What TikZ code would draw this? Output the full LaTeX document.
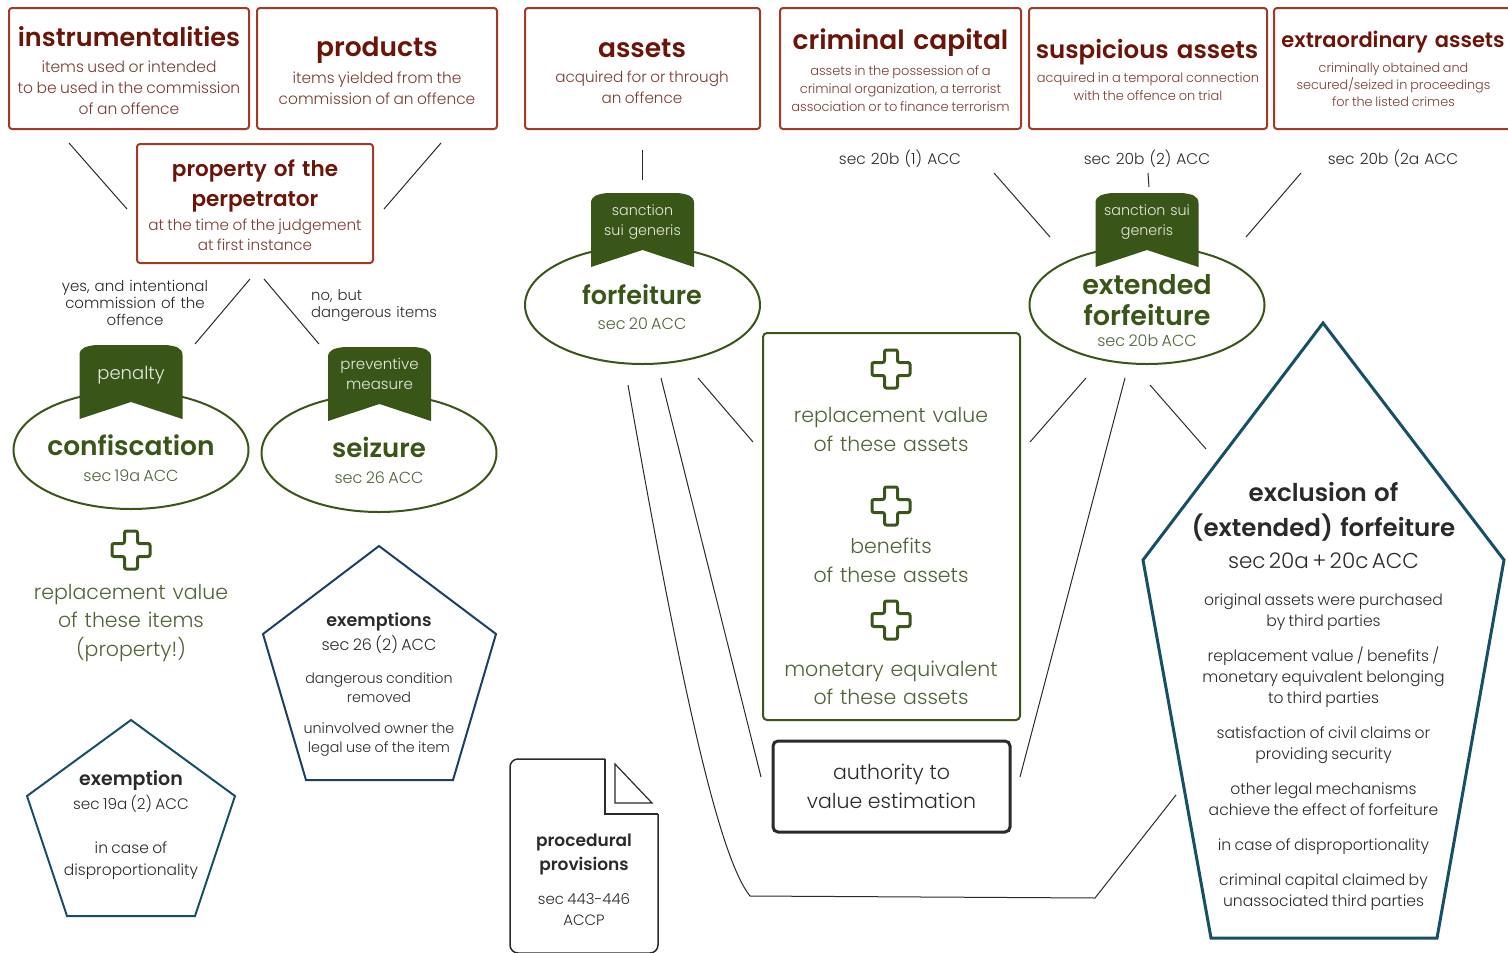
\documentclass[tikz,border=0pt]{standalone}
\usepackage{fontspec}
\usepackage{xcolor}
\setmainfont{Poppins Light}[BoldFont={Poppins SemiBold}]
\usetikzlibrary{shapes.geometric}

\definecolor{boxred}{HTML}{A33A26}
\definecolor{titlered}{HTML}{6B1408}
\definecolor{subred}{HTML}{7A3C32}
\definecolor{leaf}{HTML}{3A5518}
\definecolor{subleaf}{HTML}{4F6238}
\definecolor{navy}{HTML}{1C3F68}
\definecolor{petrol}{HTML}{164F66}
\definecolor{ink}{HTML}{2A2A2A}

\newcommand{\widebold}{\bfseries\spaceskip=.3em\relax}
\newcommand{\redfont}[2]{\fontsize{#1}{#2}\selectfont}
\newcommand{\ttl}[3]{{\fontsize{#1}{#2}\selectfont\widebold #3\par}}
\newcommand{\sub}[3]{{\fontsize{#1}{#2}\selectfont #3\par}}

\tikzset{
	redbox/.style={draw=boxred, line width=2pt, rounded corners=3pt, minimum height=121pt, minimum width=#1, inner sep=0pt},
	redtitle/.style={text width=300pt, align=center, inner sep=0pt, text=titlered, font={\fontsize{#1}{30}\selectfont\widebold}},
	redtext/.style={text width=300pt, align=center, inner sep=0pt, text=subred, execute at begin node={\spaceskip=.22em\relax}},
	oval/.style={draw=leaf, line width=2pt, ellipse, minimum width=235pt, minimum height=118pt},
	ovaltext/.style={text width=210pt, align=center, inner sep=0pt, text=subleaf},
	tagtext/.style={text width=100pt, align=center, inner sep=0pt, text=white!88!leaf, font=\fontsize{15}{20}\selectfont},
	link/.style={draw=ink, line width=1pt},
	plaintext/.style={text width=#1, align=center, inner sep=0pt, text=ink},
	plaintext/.default=230pt,
	greentext/.style={text width=250pt, align=center, inner sep=0pt, text=subleaf, font=\fontsize{20.5}{28.5}\selectfont},
	ribbon/.pic={
		\fill[leaf] (-51.5,74) -- (-51.5,10) .. controls (-51.5,3) and (-45,1) .. (-35,0) -- (35,0) .. controls (45,1) and (51.5,3) .. (51.5,10) -- (51.5,74) -- (0,57) -- cycle;
	},
	plusicon/.pic={
		\draw[leaf, line width=3pt, rounded corners=2pt] (-6.5,-19) -- (6.5,-19) -- (6.5,-6.5) -- (19,-6.5) -- (19,6.5) -- (6.5,6.5) -- (6.5,19) -- (-6.5,19) -- (-6.5,6.5) -- (-19,6.5) -- (-19,-6.5) -- (-6.5,-6.5) -- cycle;
	}
}

\begin{document}
\begin{tikzpicture}[x=1pt, y=-1pt]
	\useasboundingbox (0,0) rectangle (1508,953);

	\node[redbox=240pt] (instrumentalities) at (129,68.5) {};
	\node[redtitle=25.5] (instrumentalitiestitle) at (129,37) {instrumentalities};
	\node[redtext, font={\redfont{15.5}{21}}] (instrumentalitiestext) at (129,87.5) {items used or intended\\to be used in the commission\\of an offence};
	\node[redbox=240pt] (products) at (377,68.5) {};
	\node[redtitle=26.5] (productstitle) at (377,50) {products};
	\node[redtext, font={\redfont{15.4}{21}}] (productstext) at (377,88) {items yielded from the\\commission of an offence};
	\node[redbox=235pt] (assets) at (642.5,68.5) {};
	\node[redtitle=26.5] (assetstitle) at (642,48) {assets};
	\node[redtext, font={\redfont{15.2}{21}}] (assetstext) at (642,87) {acquired for or through\\an offence};
	\node[redbox=241pt] (capital) at (900.5,68.5) {};
	\node[redtitle=26.5] (capitaltitle) at (900.5,43) {criminal capital};
	\node[redtext, font={\redfont{13}{18}}] (capitaltext) at (900.5,89) {assets in the possession of a\\criminal organization, a terrorist\\association or to finance terrorism};
	\node[redbox=238pt] (suspicious) at (1148,68.5) {};
	\node[redtitle=24.5] (suspicioustitle) at (1147,52) {suspicious assets};
	\node[redtext, font={\redfont{13}{18}}] (suspicioustext) at (1148,86.5) {acquired in a temporal connection\\with the offence on trial};
	\node[redbox=241pt] (extraordinary) at (1394.5,68.5) {};
	\node[redtitle=21] (extraordinarytitle) at (1393,42) {extraordinary assets};
	\node[redtext, font={\redfont{12.8}{17}}] (extraordinarytext) at (1393.5,84.5) {criminally obtained and\\secured/seized in proceedings\\for the listed crimes};
	\node[redbox=236pt, minimum height=119pt] (property) at (255,203.5) {};
	\node[redtitle=21.5] (propertytitle) at (255,186) {property of the\\perpetrator};
	\node[redtext, font={\redfont{15.2}{20.5}}] (propertytext) at (255,235) {at the time of the judgement\\at first instance};

	\node[plaintext=200pt, font=\fontsize{15}{17}\selectfont] (yestext) at (135,303) {yes, and intentional\\commission of the\\offence};
	\node[plaintext=140pt, align=left, font=\fontsize{14.8}{17}\selectfont, anchor=west] (notext) at (311,305.5) {no, but\\dangerous items};
	\node[plaintext, font=\fontsize{15.4}{18}\selectfont] (sectextone) at (900,159) {sec 20b (1) ACC};
	\node[plaintext, font=\fontsize{15.4}{18}\selectfont] (sectexttwo) at (1147,159) {sec 20b (2) ACC};
	\node[plaintext, font=\fontsize{15.4}{18}\selectfont] (sectextthree) at (1393,159) {sec 20b (2a ACC};

	\node[oval] (confiscation) at (131,450) {};
	\node[oval] (seizure) at (379,453) {};
	\node[oval] (forfeiture) at (642.5,305) {};
	\node[oval] (extended) at (1147,305) {};
	\pic at (131,345) {ribbon};
	\pic at (379.5,347) {ribbon};
	\pic at (642.5,193) {ribbon};
	\pic at (1147,193) {ribbon};
	\node[tagtext, font=\fontsize{18}{20}\selectfont] (penalty) at (131,375) {penalty};
	\node[tagtext] (preventive) at (379.5,374) {preventive\\measure};
	\node[tagtext, font=\fontsize{14.3}{20}\selectfont] (suigeneris) at (642.5,222) {sanction\\sui generis};
	\node[tagtext, font=\fontsize{14.3}{20}\selectfont] (suigenerisext) at (1147,222) {sanction sui\\generis};
	\node[ovaltext] (confiscationtext) at (131,458) {\ttl{26.5}{30}{\textcolor{leaf}{confiscation}}\vspace{6pt}\sub{16}{20}{sec 19a ACC}};
	\node[ovaltext] (seizuretext) at (379,460) {\ttl{26}{30}{\textcolor{leaf}{seizure}}\vspace{6pt}\sub{16}{20}{sec 26 ACC}};
	\node[ovaltext] (forfeituretext) at (642,307) {\ttl{25.5}{30}{\textcolor{leaf}{forfeiture}}\vspace{5pt}\sub{16}{20}{sec 20 ACC}};
	\node[ovaltext] (extendedtext) at (1147,311) {\ttl{27}{31}{\textcolor{leaf}{extended\\forfeiture}}\vspace{1pt}\sub{16}{20}{sec 20b ACC}};

	\pic at (131,550) {plusicon};
	\pic at (891,369) {plusicon};
	\pic at (891,506) {plusicon};
	\pic at (891,620) {plusicon};
	\node[greentext] (replacementitems) at (131,623) {replacement value\\of these items\\(property!)};

	\node[draw=leaf, line width=2pt, rounded corners=4pt, minimum width=257pt, minimum height=387pt] (assetsbox) at (891.5,526.5) {};
	\node[greentext] (replacementassets) at (891,429.5) {replacement value\\of these assets};
	\node[greentext] (benefits) at (891,560.5) {benefits\\of these assets};
	\node[greentext] (monetary) at (891,683) {monetary equivalent\\of these assets};
	\node[draw=ink, line width=3pt, rounded corners=5pt, minimum width=237pt, minimum height=91pt, align=center, text=ink, font=\fontsize{20.5}{28.5}\selectfont] (authority) at (891.5,786.5) {authority to\\value estimation};

	\draw[navy, line width=2pt] (379,546) -- (496,634) -- (453,780) -- (306,780) -- (263,634) -- cycle;
	\draw[petrol, line width=2pt] (131,720) -- (235,796) -- (195,916) -- (67,916) -- (27,796) -- cycle;
	\draw[petrol, line width=3pt] (1323,323) -- (1504,560) -- (1437,938) -- (1211,938) -- (1143,560) -- cycle;

	\node[plaintext] (exemptionstext) at (379,684.5) {\ttl{17.5}{24}{exemptions}\sub{16}{24}{sec 26 (2) ACC}\vspace{14pt}\sub{14.3}{19}{dangerous condition\\removed}\vspace{12pt}\sub{14.3}{19}{uninvolved owner the\\legal use of the item}};
	\node[plaintext] (exemptiontext) at (131,825) {\ttl{19}{24}{exemption}\sub{15.2}{24}{sec 19a (2) ACC}\vspace{22pt}\sub{15.5}{22}{in case of\\disproportionality}};
	\node[plaintext=340pt] (exclusiontext) at (1323.5,696.5) {\ttl{24.5}{35}{exclusion of\\(extended) forfeiture}\sub{21.5}{32}{sec 20a + 20c ACC}\vspace{16pt}\sub{15.6}{21}{original assets were purchased\\by third parties}\vspace{14pt}\sub{15.6}{21}{replacement value / benefits /\\monetary equivalent belonging\\to third parties}\vspace{14pt}\sub{15.6}{21}{satisfaction of civil claims or\\providing security}\vspace{14pt}\sub{15.6}{21}{other legal mechanisms\\achieve the effect of forfeiture}\vspace{14pt}\sub{15.6}{21}{in case of disproportionality}\vspace{14pt}\sub{15.6}{21}{criminal capital claimed by\\unassociated third parties}};

	\draw[draw=ink, line width=1.5pt, rounded corners=8pt] (605,759) -- (510,759) -- (510,953) -- (658,953) -- (658,814);
	\draw[draw=ink, line width=1.5pt] (658,814) -- (605,814) -- (605,759);
	\draw[draw=ink, line width=1.2pt] (615,764) -- (652,803) -- (615,803) -- cycle;
	\node[plaintext=140pt] (procedural) at (584,879.5) {\ttl{17}{24}{procedural\\provisions}\vspace{13pt}\sub{15}{21}{sec 443-446\\ACCP}};

	\coordinate (linea) at (69,143); \coordinate (lineb) at (127,209);
	\coordinate (linec) at (441,143); \coordinate (lined) at (384,209);
	\coordinate (linee) at (250,279); \coordinate (linef) at (195,344);
	\coordinate (lineg) at (264,279); \coordinate (lineh) at (319,344);
	\coordinate (linei) at (642.5,150); \coordinate (linej) at (642.5,180);
	\coordinate (linek) at (1148,173); \coordinate (linel) at (1149,187);
	\coordinate (linem) at (994,173); \coordinate (linen) at (1050,237);
	\coordinate (lineo) at (1301,173); \coordinate (linep) at (1246,237);
	\coordinate (lineq) at (698,378); \coordinate (liner) at (753,442);
	\coordinate (lines) at (1086,378); \coordinate (linet) at (1030,442);
	\coordinate (lineu) at (661,378); \coordinate (linev) at (761,777);
	\coordinate (linew) at (1125,378); \coordinate (linex) at (1020,777);
	\coordinate (liney) at (1150,385); \coordinate (linez) at (1206,449);
	\coordinate (bendstart) at (628,385); \coordinate (bendleft) at (750,896);
	\coordinate (bendright) at (1095,898); \coordinate (bendend) at (1176,795);
	\draw[link] (linea) -- (lineb);
	\draw[link] (linec) -- (lined);
	\draw[link] (linee) -- (linef);
	\draw[link] (lineg) -- (lineh);
	\draw[link] (linei) -- (linej);
	\draw[link] (linek) -- (linel);
	\draw[link] (linem) -- (linen);
	\draw[link] (lineo) -- (linep);
	\draw[link] (lineq) -- (liner);
	\draw[link] (lines) -- (linet);
	\draw[link] (lineu) -- (linev);
	\draw[link] (linew) -- (linex);
	\draw[link] (liney) -- (linez);
	\draw[link] (bendstart) .. controls (680,680) and (718,856) .. (bendleft) -- (bendright) -- (bendend);
\end{tikzpicture}
\end{document}
